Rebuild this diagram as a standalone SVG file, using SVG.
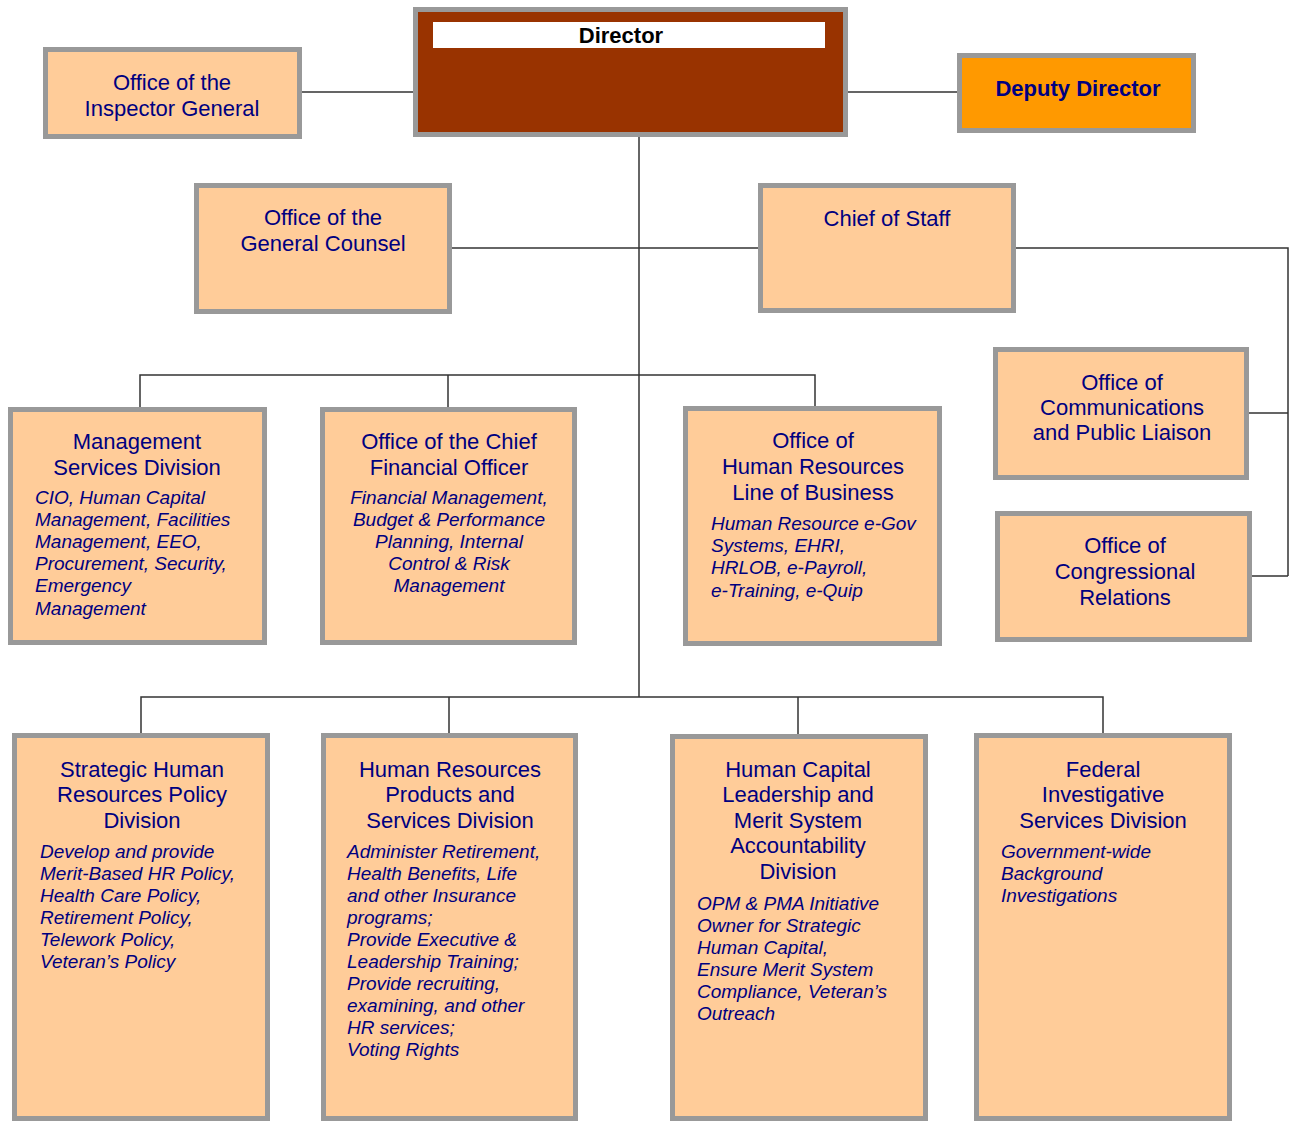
<svg xmlns="http://www.w3.org/2000/svg" width="1289" height="1122" viewBox="0 0 1289 1122">
<style>
.box{fill:#FFCC99;stroke:#999999;stroke-width:5}
.t{font-family:"Liberation Sans",Arial,sans-serif;font-size:22px;fill:#000080;text-anchor:middle}
.i{font-family:"Liberation Sans",Arial,sans-serif;font-size:19px;font-style:italic;fill:#000080}
.ic{text-anchor:middle}
.con{fill:none;stroke:#333333;stroke-width:1.5}
</style>
<rect width="1289" height="1122" fill="#ffffff"/>
<g id="connectors">
<path class="con" d="M302 92H413M848 92H957"/>
<path class="con" d="M639 137V697"/>
<path class="con" d="M452 248H758"/>
<path class="con" d="M1016 248H1288V576M1249 413H1288M1252 576H1288"/>
<path class="con" d="M140 407V375H815V406M448 375V407"/>
<path class="con" d="M141 735V697H1103V735M449 697V735M798 697V735"/>
</g>
<g id="director">
<rect x="415.5" y="9.5" width="430" height="125" fill="#993300" stroke="#999999" stroke-width="5"/>
<rect x="433" y="22" width="392" height="26" fill="#ffffff"/>
<text x="621" y="43" font-family="Liberation Sans,Arial,sans-serif" font-size="22" font-weight="bold" text-anchor="middle" fill="#000000">Director</text>
</g>
<g id="inspector-general">
<rect class="box" x="45.5" y="49.5" width="254" height="87"/>
<text class="t" x="172" y="90">Office of the</text>
<text class="t" x="172" y="116">Inspector General</text>
</g>
<g id="deputy-director">
<rect x="959.5" y="55.5" width="234" height="75" fill="#FF9900" stroke="#999999" stroke-width="5"/>
<text x="1078" y="96" font-family="Liberation Sans,Arial,sans-serif" font-size="22" font-weight="bold" text-anchor="middle" fill="#000080">Deputy Director</text>
</g>
<g id="general-counsel">
<rect class="box" x="196.5" y="185.5" width="253" height="126"/>
<text class="t" x="323" y="225">Office of the</text>
<text class="t" x="323" y="251">General Counsel</text>
</g>
<g id="chief-of-staff">
<rect class="box" x="760.5" y="185.5" width="253" height="125"/>
<text class="t" x="887" y="226">Chief of Staff</text>
</g>
<g id="communications">
<rect class="box" x="995.5" y="349.5" width="251" height="128"/>
<text class="t" x="1122" y="390">Office of</text>
<text class="t" x="1122" y="415">Communications</text>
<text class="t" x="1122" y="440">and Public Liaison</text>
</g>
<g id="congressional">
<rect class="box" x="997.5" y="513.5" width="252" height="126"/>
<text class="t" x="1125" y="553">Office of</text>
<text class="t" x="1125" y="579">Congressional</text>
<text class="t" x="1125" y="605">Relations</text>
</g>
<g id="management-services">
<rect class="box" x="10.5" y="409.5" width="254" height="233"/>
<text class="t" x="137" y="449">Management</text>
<text class="t" x="137" y="475">Services Division</text>
<text class="i" x="35" y="504">CIO, Human Capital</text>
<text class="i" x="35" y="526">Management, Facilities</text>
<text class="i" x="35" y="548">Management, EEO,</text>
<text class="i" x="35" y="570">Procurement, Security,</text>
<text class="i" x="35" y="592">Emergency</text>
<text class="i" x="35" y="615">Management</text>
</g>
<g id="cfo">
<rect class="box" x="322.5" y="409.5" width="252" height="233"/>
<text class="t" x="449" y="449">Office of the Chief</text>
<text class="t" x="449" y="475">Financial Officer</text>
<text class="i ic" x="449" y="504">Financial Management,</text>
<text class="i ic" x="449" y="526">Budget &amp; Performance</text>
<text class="i ic" x="449" y="548">Planning, Internal</text>
<text class="i ic" x="449" y="570">Control &amp; Risk</text>
<text class="i ic" x="449" y="592">Management</text>
</g>
<g id="hr-lob">
<rect class="box" x="685.5" y="408.5" width="254" height="235"/>
<text class="t" x="813" y="448">Office of</text>
<text class="t" x="813" y="474">Human Resources</text>
<text class="t" x="813" y="500">Line of Business</text>
<text class="i" x="711" y="530">Human Resource e-Gov</text>
<text class="i" x="711" y="552">Systems, EHRI,</text>
<text class="i" x="711" y="574">HRLOB, e-Payroll,</text>
<text class="i" x="711" y="597">e-Training, e-Quip</text>
</g>
<g id="strategic-hr">
<rect class="box" x="14.5" y="735.5" width="253" height="383"/>
<text class="t" x="142" y="777">Strategic Human</text>
<text class="t" x="142" y="802">Resources Policy</text>
<text class="t" x="142" y="828">Division</text>
<text class="i" x="40" y="858">Develop and provide</text>
<text class="i" x="40" y="880">Merit-Based HR Policy,</text>
<text class="i" x="40" y="902">Health Care Policy,</text>
<text class="i" x="40" y="924">Retirement Policy,</text>
<text class="i" x="40" y="946">Telework Policy,</text>
<text class="i" x="40" y="968">Veteran’s Policy</text>
</g>
<g id="hr-products">
<rect class="box" x="323.5" y="735.5" width="252" height="383"/>
<text class="t" x="450" y="777">Human Resources</text>
<text class="t" x="450" y="802">Products and</text>
<text class="t" x="450" y="828">Services Division</text>
<text class="i" x="347" y="858">Administer Retirement,</text>
<text class="i" x="347" y="880">Health Benefits, Life</text>
<text class="i" x="347" y="902">and other Insurance</text>
<text class="i" x="347" y="924">programs;</text>
<text class="i" x="347" y="946">Provide Executive &amp;</text>
<text class="i" x="347" y="968">Leadership Training;</text>
<text class="i" x="347" y="990">Provide recruiting,</text>
<text class="i" x="347" y="1012">examining, and other</text>
<text class="i" x="347" y="1034">HR services;</text>
<text class="i" x="347" y="1056">Voting Rights</text>
</g>
<g id="hc-leadership">
<rect class="box" x="672.5" y="736.5" width="253" height="382"/>
<text class="t" x="798" y="777">Human Capital</text>
<text class="t" x="798" y="802">Leadership and</text>
<text class="t" x="798" y="828">Merit System</text>
<text class="t" x="798" y="853">Accountability</text>
<text class="t" x="798" y="879">Division</text>
<text class="i" x="697" y="910">OPM &amp; PMA Initiative</text>
<text class="i" x="697" y="932">Owner for Strategic</text>
<text class="i" x="697" y="954">Human Capital,</text>
<text class="i" x="697" y="976">Ensure Merit System</text>
<text class="i" x="697" y="998">Compliance, Veteran’s</text>
<text class="i" x="697" y="1020">Outreach</text>
</g>
<g id="federal-investigative">
<rect class="box" x="976.5" y="735.5" width="253" height="383"/>
<text class="t" x="1103" y="777">Federal</text>
<text class="t" x="1103" y="802">Investigative</text>
<text class="t" x="1103" y="828">Services Division</text>
<text class="i" x="1001" y="858">Government-wide</text>
<text class="i" x="1001" y="880">Background</text>
<text class="i" x="1001" y="902">Investigations</text>
</g>
</svg>
